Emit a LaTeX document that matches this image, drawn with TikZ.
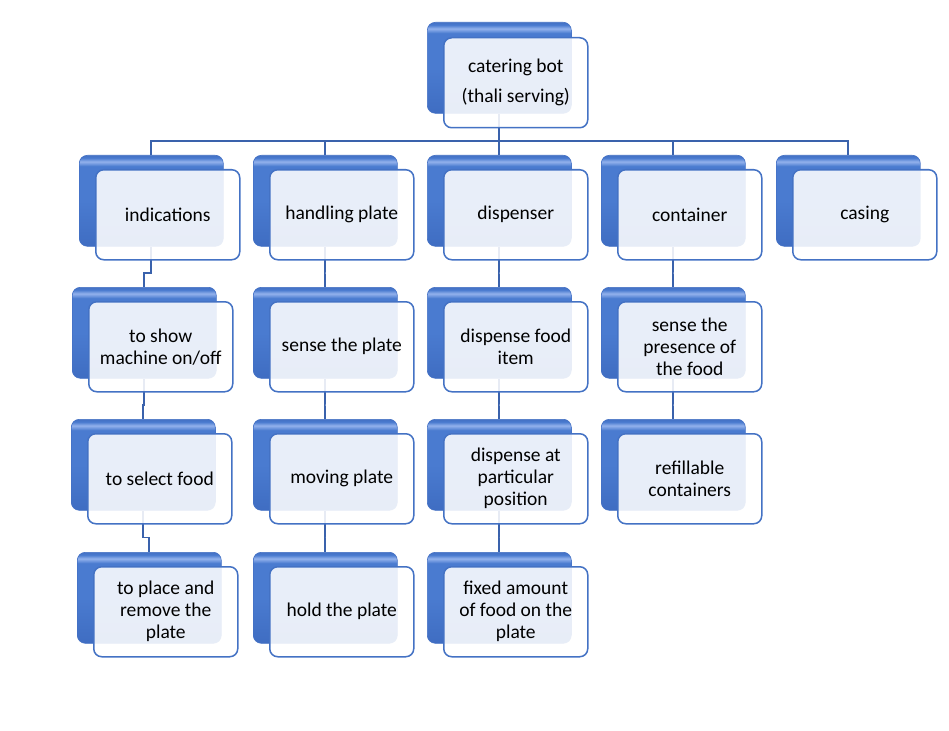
\documentclass[tikz,border=0pt]{standalone}
\usepackage{fontspec}
\setmainfont{Carlito}
\usetikzlibrary{calc}
\definecolor{linkblue}{HTML}{3A62AC}
\definecolor{frameblue}{HTML}{4472C4}
\definecolor{backlow}{HTML}{3F6DC2}
\definecolor{backmid}{HTML}{4A7BD0}
\definecolor{backhigh}{HTML}{93B2EC}
\definecolor{backedge}{HTML}{4370C4}
\pgfdeclareverticalshading{backshade}{100bp}{color(0bp)=(backlow); color(25bp)=(backlow); color(50bp)=(backmid); color(69bp)=(backmid); color(71.5bp)=(backhigh); color(73.5bp)=(backmid); color(75bp)=(backedge); color(100bp)=(backedge)}
\pgfdeclarelayer{bg}
\pgfsetlayers{bg,main}
\begin{document}
\begin{tikzpicture}[x=1pt, y=-1pt, line join=round, line cap=round,
	font=\fontsize{19.5}{22}\selectfont,
	back/.style={anchor=north west, minimum width=144pt, minimum height=91pt, inner sep=0pt, rounded corners=8pt, shading=backshade, draw=backedge, line width=.6pt},
	front/.style={anchor=north west, minimum width=144pt, minimum height=90pt, inner sep=0pt, align=center, rounded corners=8pt, draw=frameblue, line width=1.5pt, fill=white, fill opacity=.88, text opacity=1},
	link/.style={draw=linkblue, line width=1.7pt}]
	\useasboundingbox (0,0) rectangle (949,730);
	% top
	\node[back] (root-b) at (427,22) {};
	\node[front] (root) at ($(root-b.north west)+(16,15)$) {catering bot\\[8pt](thali serving)};
	% first row
	\node[back] (ind-b) at (79,155) {};
	\node[front] (ind) at ($(ind-b.north west)+(16,14)$) {indications};
	\node[back] (hand-b) at (253,155) {};
	\node[front] (hand) at ($(hand-b.north west)+(16,14)$) {handling plate};
	\node[back] (disp-b) at (427,155) {};
	\node[front] (disp) at ($(disp-b.north west)+(16,14)$) {dispenser};
	\node[back] (cont-b) at (601,155) {};
	\node[front] (cont) at ($(cont-b.north west)+(16,14)$) {container};
	\node[back] (cas-b) at (776,155) {};
	\node[front] (cas) at ($(cas-b.north west)+(16,14)$) {casing};
	% second row
	\node[back] (show-b) at (72,287) {};
	\node[front] (show) at ($(show-b.north west)+(16,14)$) {to show\\machine on/off};
	\node[back] (sense-b) at (253,287) {};
	\node[front] (sense) at ($(sense-b.north west)+(16,14)$) {sense the plate};
	\node[back] (dfood-b) at (427,287) {};
	\node[front] (dfood) at ($(dfood-b.north west)+(16,14)$) {dispense food\\item};
	\node[back] (pres-b) at (601,287) {};
	\node[front] (pres) at ($(pres-b.north west)+(16,14)$) {sense the\\presence of\\the food};
	% third row
	\node[back] (sel-b) at (71,419) {};
	\node[front] (sel) at ($(sel-b.north west)+(16,14)$) {to select food};
	\node[back] (move-b) at (253,419) {};
	\node[front] (move) at ($(move-b.north west)+(16,14)$) {moving plate};
	\node[back] (dpos-b) at (427,419) {};
	\node[front] (dpos) at ($(dpos-b.north west)+(16,14)$) {dispense at\\particular\\position};
	\node[back] (refill-b) at (601,419) {};
	\node[front] (refill) at ($(refill-b.north west)+(16,14)$) {refillable\\containers};
	% fourth row
	\node[back] (place-b) at (77,552) {};
	\node[front] (place) at ($(place-b.north west)+(16,14)$) {to place and\\remove the\\plate};
	\node[back] (hold-b) at (253,552) {};
	\node[front] (hold) at ($(hold-b.north west)+(16,14)$) {hold the plate};
	\node[back] (fixed-b) at (427,552) {};
	\node[front] (fixed) at ($(fixed-b.north west)+(16,14)$) {fixed amount\\of food on the\\plate};
	% links
	\begin{pgfonlayer}{bg}
	\coordinate (bus) at (0,141);
	\draw[link] (root-b.south) -- (root-b.south |- bus);
	\draw[link] (ind-b.north) |- (cas-b.north |- bus) -- (cas-b.north);
	\foreach \c in {hand,disp,cont}
		\draw[link] (\c-b.north) -- (\c-b.north |- bus);
	\foreach \a/\b in {ind/show,show/sel,sel/place,hand/sense,sense/move,move/hold,disp/dfood,dfood/dpos,dpos/fixed,cont/pres,pres/refill}
		\draw[link] (\a-b.south) |- ($(\a-b.south)!.65!(\b-b.north)$) -| (\b-b.north);
	\end{pgfonlayer}
\end{tikzpicture}
\end{document}
